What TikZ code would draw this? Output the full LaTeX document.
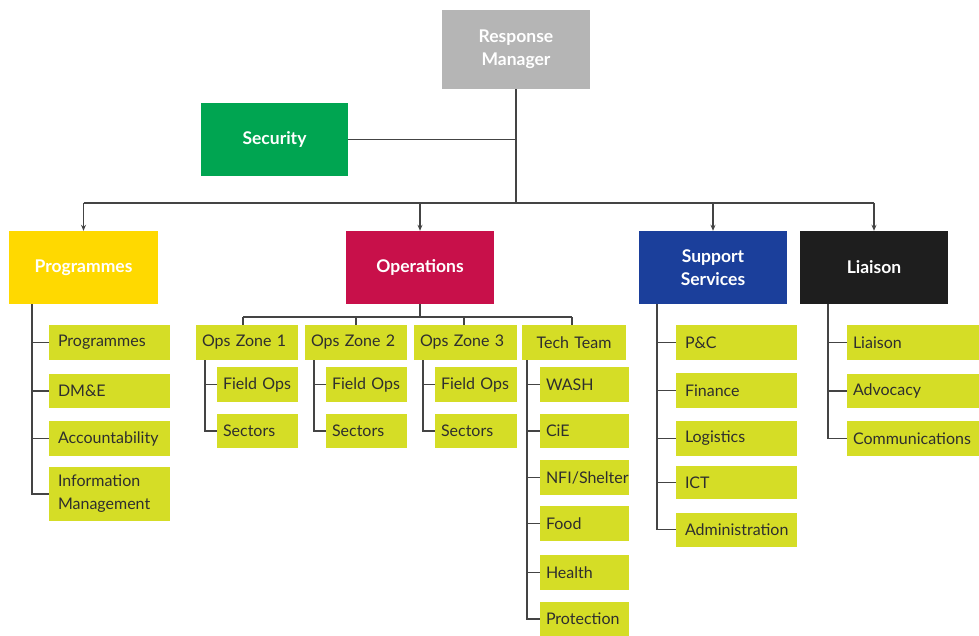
\documentclass[tikz,border=0pt]{standalone}
\usepackage{fontspec}
\setmainfont{Lato}
\usetikzlibrary{arrows.meta}
\definecolor{rmgray}{HTML}{B5B5B5}
\definecolor{secgreen}{HTML}{00A551}
\definecolor{progyel}{HTML}{FFD900}
\definecolor{opsred}{HTML}{C8104A}
\definecolor{supblue}{HTML}{1B3F9B}
\definecolor{liablack}{HTML}{1E1E1E}
\definecolor{leafc}{HTML}{D5DD26}
\definecolor{linec}{HTML}{444444}
\definecolor{leaftext}{HTML}{2E2E2E}
\begin{document}
\begin{tikzpicture}[x=1pt,y=-1pt,
  headbox/.style={fill=#1, text=white, font=\fontsize{17.5}{23}\selectfont\bfseries, minimum width=148pt, minimum height=73pt, align=center, inner sep=0pt},
  leaf/.style={fill=leafc, text=leaftext, font=\fontsize{16}{23}\selectfont, text width=#1, align=left, inner xsep=9pt, inner ysep=0pt, minimum height=35pt, execute at begin node={\hyphenpenalty=10000\exhyphenpenalty=10000}},
  conn/.style={draw=linec, line width=1.4pt},
  arr/.style={conn, -{Stealth[length=6pt,width=5pt]}}
]
\fill[white] (0,0) rectangle (979,636);
\useasboundingbox (0,0) rectangle (979,636);

% heads
\node[headbox=rmgray, minimum height=79pt] (rm) at (516,49.5) {Response\\Manager};
\node[headbox=secgreen, minimum width=147pt] (sec) at (274.5,139.5) {Security};
\node[headbox=progyel, minimum width=149pt] (prog) at (83.5,267.5) {Programmes};
\node[headbox=opsred] (ops) at (420,267.5) {Operations};
\node[headbox=supblue] (sup) at (713,267.5) {Support\\Services};
\node[headbox=liablack] (lia) at (874,267.5) {Liaison};

% top connectors
\coordinate (bus) at (516,203);
\draw[conn] (rm.south) -- (bus);
\draw[conn] (sec.east) -- (sec.east -| rm.south);
\draw[conn] (prog.north |- bus) -- (lia.north |- bus);
\draw[arr] (prog.north |- bus) -- (prog.north);
\draw[arr] (ops.north |- bus) -- (ops.north);
\draw[arr] (sup.north |- bus) -- (sup.north);
\draw[arr] (lia.north |- bus) -- (lia.north);

% Programmes children (box x 49-170)
\node[leaf=103pt] (p1) at (109.5,342.5) {Programmes};
\node[leaf=103pt, minimum height=34pt] (p2) at (109.5,391) {DM\&E};
\node[leaf=103pt] (p3) at (109.5,438.5) {Accountability};
\node[leaf=103pt, minimum height=54pt] (p4) at (109.5,494) {Information\\Management};
\coordinate (pv) at (32,304);
\draw[conn] (pv) -- (pv |- p4.west) -- (p4.west);
\foreach \n in {p1,p2,p3} \draw[conn] (pv |- \n.west) -- (\n.west);

% Operations sub-level
\node[leaf=90pt, inner xsep=6pt] (z1) at (247,342.5) {Ops~Zone~1};
\node[leaf=90pt, inner xsep=6pt] (z2) at (356,342.5) {Ops~Zone~2};
\node[leaf=91pt, inner xsep=6pt] (z3) at (465.5,342.5) {Ops~Zone~3};
\node[leaf=92pt, inner xsep=6pt, align=center] (tt) at (574,342.5) {Tech~Team};
\coordinate (obus) at (420,317);
\draw[conn] (ops.south) -- (obus);
\draw[conn] (243,317) -- (572,317);
\draw[conn] (243,317) -- (243,325);
\draw[conn] (356,317) -- (356,325);
\draw[conn] (464,317) -- (464,325);
\draw[conn] (572,317) -- (572,325);

% Zone children
\node[leaf=69pt, inner xsep=6pt] (z1a) at (257.5,384.5) {Field~Ops};
\node[leaf=69pt, inner xsep=6pt, minimum height=34pt] (z1b) at (257.5,431) {Sectors};
\node[leaf=69pt, inner xsep=6pt] (z2a) at (366.5,384.5) {Field~Ops};
\node[leaf=69pt, inner xsep=6pt, minimum height=34pt] (z2b) at (366.5,431) {Sectors};
\node[leaf=70pt, inner xsep=6pt] (z3a) at (476,384.5) {Field~Ops};
\node[leaf=70pt, inner xsep=6pt, minimum height=34pt] (z3b) at (476,431) {Sectors};
\draw[conn] (205,360) -- (205,431) -- (z1b.west);
\draw[conn] (205,384.5) -- (z1a.west);
\draw[conn] (314,360) -- (314,431) -- (z2b.west);
\draw[conn] (314,384.5) -- (z2a.west);
\draw[conn] (423,360) -- (423,431) -- (z3b.west);
\draw[conn] (423,384.5) -- (z3a.west);

% Tech team children (box x 540-629)
\node[leaf=77pt, inner xsep=6pt] (t1) at (584.5,384.5) {WASH};
\node[leaf=77pt, inner xsep=6pt, minimum height=34pt] (t2) at (584.5,431) {CiE};
\node[leaf=77pt, inner xsep=6pt] (t3) at (584.5,477.5) {NFI/Shelter};
\node[leaf=77pt, inner xsep=6pt] (t4) at (584.5,523.5) {Food};
\node[leaf=77pt, inner xsep=6pt] (t5) at (584.5,572.5) {Health};
\node[leaf=77pt, inner xsep=6pt, minimum height=34pt] (t6) at (584.5,619) {Protection};
\coordinate (tv) at (527,360);
\draw[conn] (tv) -- (tv |- t6.west) -- (t6.west);
\foreach \n in {t1,t2,t3,t4,t5} \draw[conn] (tv |- \n.west) -- (\n.west);

% Support Services children (box x 676-797)
\node[leaf=103pt] (s1) at (736.5,342.5) {P\&C};
\node[leaf=103pt] (s2) at (736.5,390.5) {Finance};
\node[leaf=103pt] (s3) at (736.5,438.5) {Logistics};
\node[leaf=103pt, minimum height=33pt] (s4) at (736.5,482.5) {ICT};
\node[leaf=103pt, minimum height=34pt] (s5) at (736.5,529.5) {Administration};
\coordinate (sv) at (657,304);
\draw[conn] (sv) -- (sv |- s5.west) -- (s5.west);
\foreach \n in {s1,s2,s3,s4} \draw[conn] (sv |- \n.west) -- (\n.west);

% Liaison children (box x 847-979)
\node[leaf=120pt, inner xsep=6pt] (l1) at (913,342.5) {Liaison};
\node[leaf=120pt, inner xsep=6pt, minimum height=34pt] (l2) at (913,391) {Advocacy};
\node[leaf=120pt, inner xsep=6pt] (l3) at (913,438.5) {Communications};
\coordinate (lv) at (828,304);
\draw[conn] (lv) -- (lv |- l3.west) -- (l3.west);
\foreach \n in {l1,l2} \draw[conn] (lv |- \n.west) -- (\n.west);
\end{tikzpicture}
\end{document}
